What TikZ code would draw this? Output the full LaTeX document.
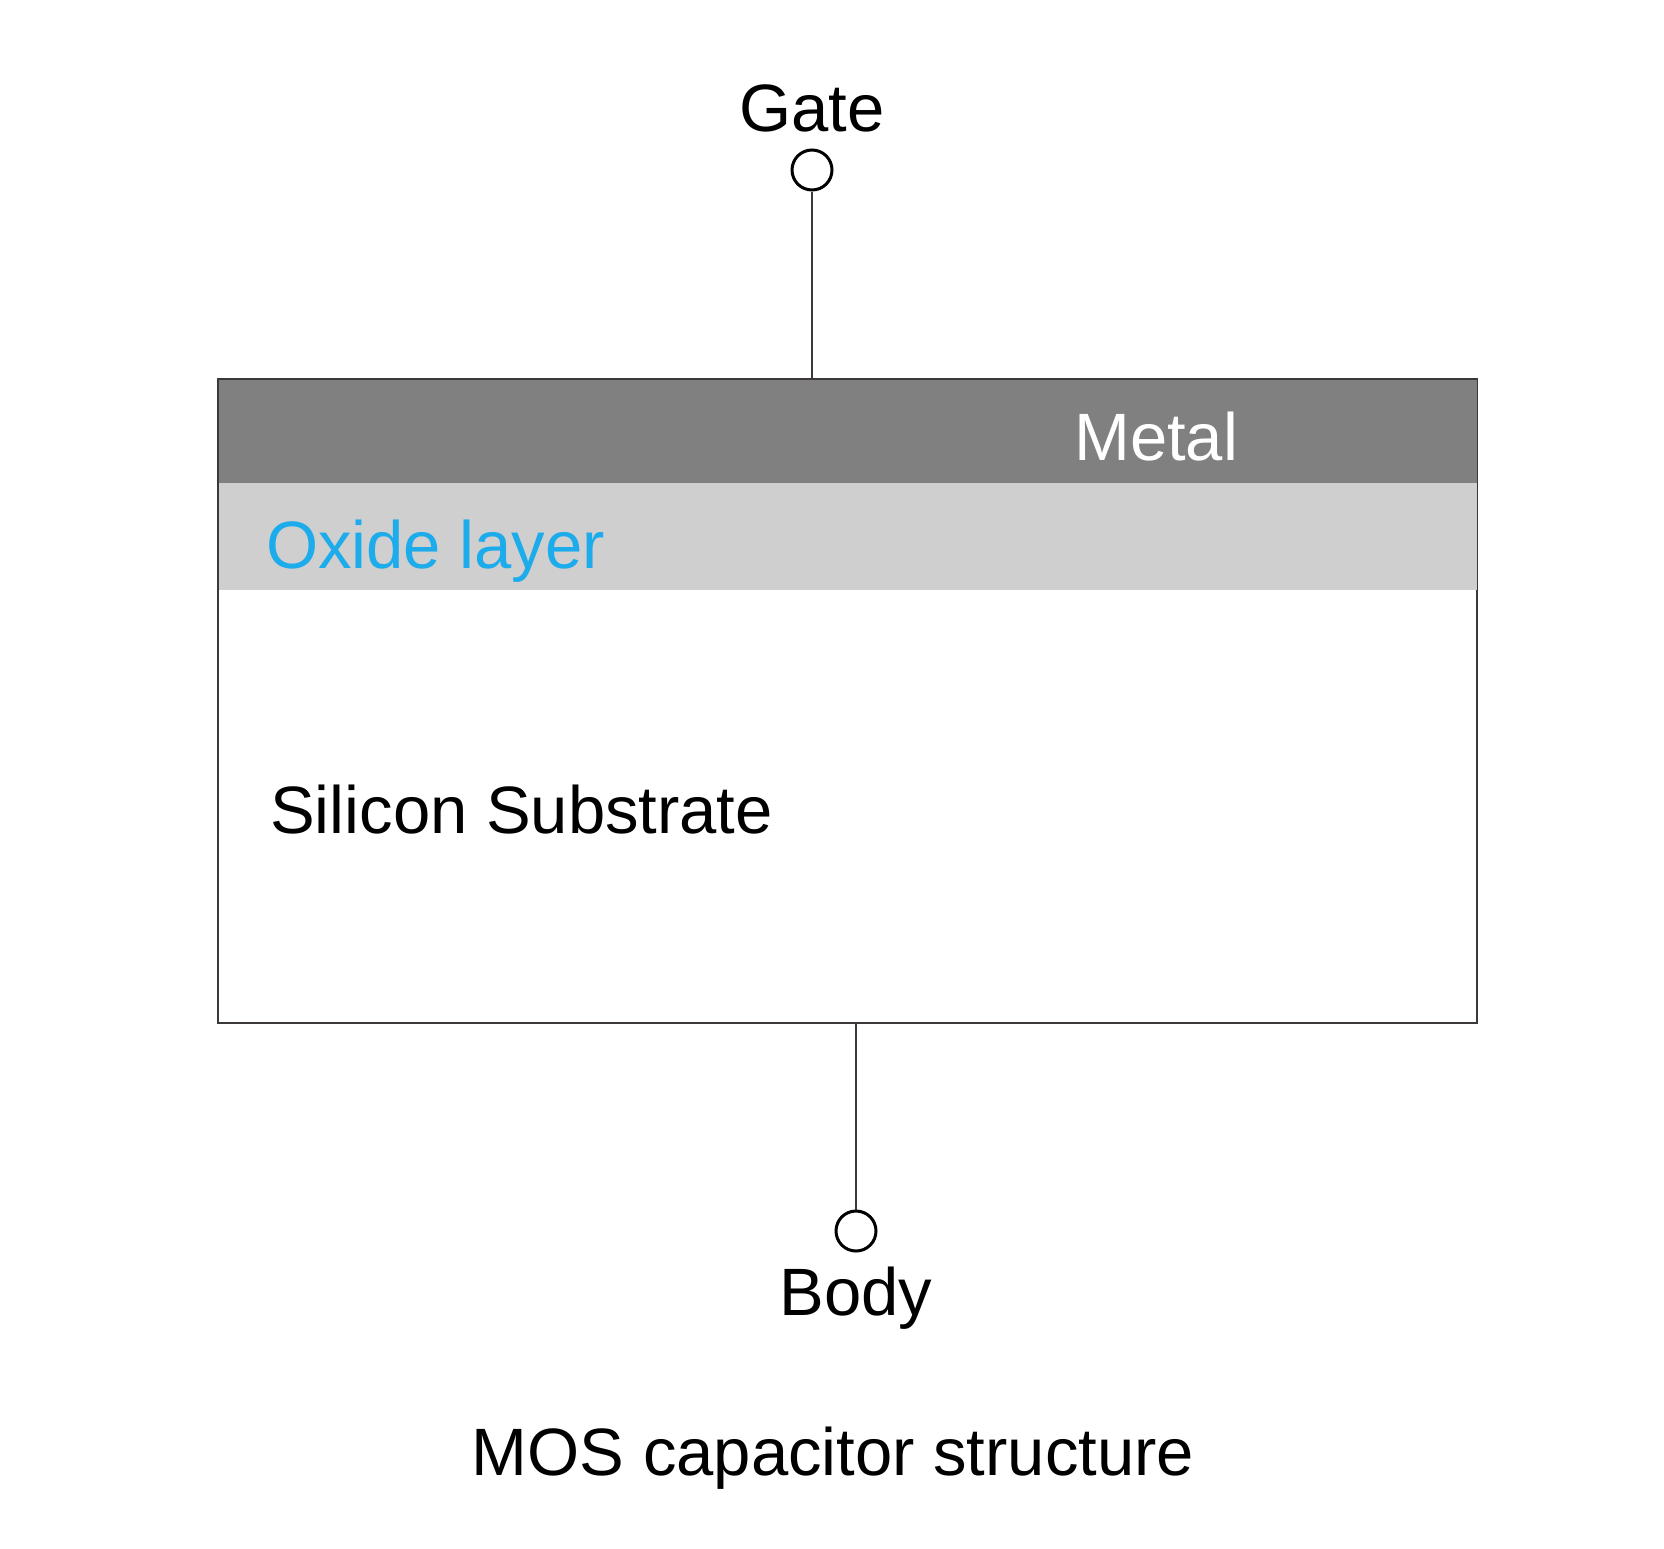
\documentclass[tikz,border=0pt]{standalone}
\usepackage{fontspec}
\setmainfont{Liberation Sans}
\definecolor{metalgray}{RGB}{128,128,128}
\definecolor{oxidegray}{RGB}{207,207,207}
\definecolor{oxideblue}{RGB}{28,172,236}
\definecolor{wire}{RGB}{60,56,58}
\begin{document}
\begin{tikzpicture}[x=1pt,y=-1pt,
  layer/.style={draw=none,inner sep=0pt,minimum width=1259pt,anchor=north west},
  term/.style={circle,draw=black,line width=3pt,fill=white,minimum size=40pt,inner sep=0pt},
  lbl/.style={font=\fontsize{67}{80}\selectfont,inner sep=0pt},
  conn/.style={draw=wire,line width=2.4pt},
  edge/.style={draw=wire,line width=2pt}]
\useasboundingbox (0,0) rectangle (1664,1548);
% layers
\node[layer,fill=white,minimum height=433pt] (sub) at (218,590) {};
\node[layer,fill=oxidegray,minimum height=107pt] (ox) at (218,483) {};
\node[layer,fill=metalgray,minimum height=104pt] (metal) at (218,379) {};
\draw[edge] (sub.north west) -- (sub.south west) -- (sub.south east) -- (sub.north east);
\draw[wire,line width=1.4pt] (ox.south west) -- (metal.north west) -- (metal.north east) -- (ox.south east);
% texts
\node[lbl,anchor=base west,text=white] (tmetal) at (1074,460) {Metal};
\node[lbl,anchor=base west,text=oxideblue] (tox) at (266,568) {Oxide layer};
\node[lbl,anchor=base west] (tsub) at (270,833) {Silicon Substrate};
% terminals
\node[term] (gate) at (812,170) {};
\node[term] (body) at (856,1231) {};
\node[lbl,anchor=base] (tgate) at (812,131) {Gate};
\node[lbl,anchor=base] (tbody) at (856,1315) {Body};
\coordinate (gtop) at (812,379);
\coordinate (bbot) at (856,1023);
\draw[conn] (gate.south) -- (gtop);
\draw[conn] (bbot) -- (body.north);
% caption
\node[lbl,anchor=base] (cap) at (833,1475) {MOS capacitor structure};
\end{tikzpicture}
\end{document}
